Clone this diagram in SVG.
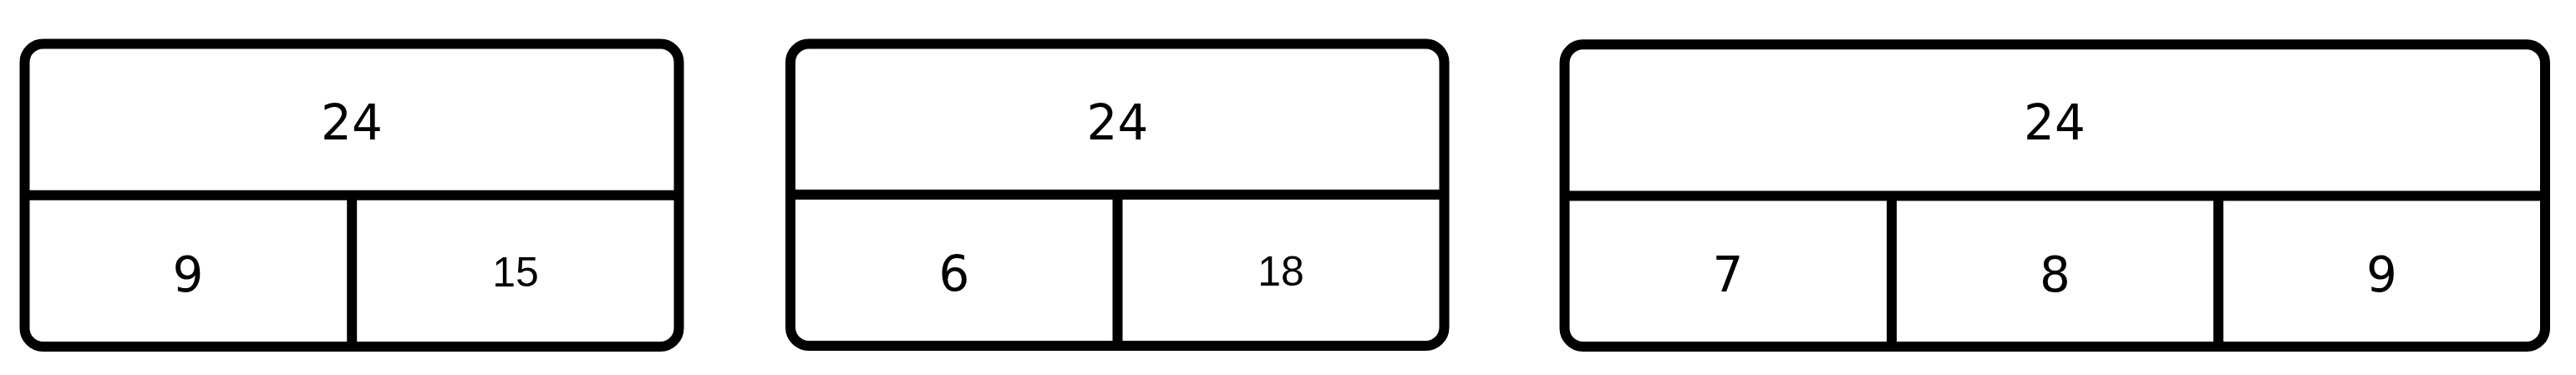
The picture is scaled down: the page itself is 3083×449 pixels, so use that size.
<svg xmlns="http://www.w3.org/2000/svg" width="3083" height="449" viewBox="0 0 3083 449">
<style>
.box{fill:#fff;stroke:#000;stroke-width:12}
.ln{stroke:#000;stroke-width:12;fill:none}
.t{font-family:"DejaVu Sans",sans-serif;font-size:58px;text-anchor:middle;fill:#000}
.s{font-family:"Liberation Sans",Roboto,Arimo,sans-serif;font-size:50px;text-anchor:middle;fill:#000}
</style>
<rect width="3083" height="449" fill="#fff"/>
<g id="bar1">
<rect class="box" x="29.5" y="52.5" width="783" height="362.5" rx="22"/>
<line class="ln" x1="29.5" y1="233.7" x2="812.5" y2="233.7"/>
<line class="ln" x1="421.2" y1="233.7" x2="421.2" y2="415"/>
<text class="t" x="421" y="166.5">24</text>
<text class="t" x="225" y="348.5">9</text>
<text class="s" x="617" y="342.5">15</text>
</g>
<g id="bar2">
<rect class="box" x="946" y="52.5" width="782.5" height="361.5" rx="22"/>
<line class="ln" x1="946" y1="233" x2="1728.5" y2="233"/>
<line class="ln" x1="1337.5" y1="233" x2="1337.5" y2="414"/>
<text class="t" x="1337.5" y="166.5">24</text>
<text class="t" x="1142" y="348">6</text>
<text class="s" x="1533" y="341.7">18</text>
</g>
<g id="bar3">
<rect class="box" x="1872.5" y="53.3" width="1173.5" height="361.7" rx="22"/>
<line class="ln" x1="1872.5" y1="234.5" x2="3046" y2="234.5"/>
<line class="ln" x1="2264" y1="234.5" x2="2264" y2="415"/>
<line class="ln" x1="2655" y1="234.5" x2="2655" y2="415"/>
<text class="t" x="2459" y="167">24</text>
<text class="t" x="2068" y="349">7</text>
<text class="t" x="2459.5" y="349">8</text>
<text class="t" x="2850.5" y="349">9</text>
</g>
<g id="connectors"/>
</svg>
